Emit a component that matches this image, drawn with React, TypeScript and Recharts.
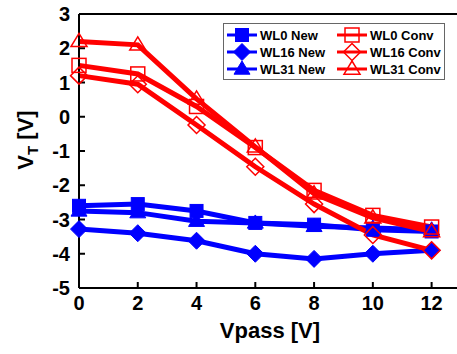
import { Line, LineChart, ReferenceLine, XAxis, YAxis } from 'recharts';

const vpass = [0, 2, 4, 6, 8, 10, 12];
const wl0New = [-2.6, -2.55, -2.75, -3.1, -3.15, -3.3, -3.35];
const wl16New = [-3.28, -3.4, -3.62, -4.0, -4.15, -4.0, -3.9];
const wl31New = [-2.75, -2.8, -3.05, -3.1, -3.2, -3.25, -3.3];
const wl0Conv = [1.5, 1.25, 0.3, -0.9, -2.15, -2.88, -3.22];
const wl16Conv = [1.2, 0.95, -0.24, -1.46, -2.55, -3.45, -3.9];
const wl31Conv = [2.2, 2.1, 0.52, -0.88, -2.25, -2.95, -3.35];
const xTicks = [0, 2, 4, 6, 8, 10, 12];
const yTicks = [-5, -4, -3, -2, -1, 0, 1, 2, 3];

type Shape = 'square' | 'diamond' | 'triangle';

const series: { key: string; name: string; values: number[]; color: string; shape: Shape; filled: boolean }[] = [
  { key: 'wl0New', name: 'WL0 New', values: wl0New, color: '#0000ff', shape: 'square', filled: true },
  { key: 'wl16New', name: 'WL16 New', values: wl16New, color: '#0000ff', shape: 'diamond', filled: true },
  { key: 'wl31New', name: 'WL31 New', values: wl31New, color: '#0000ff', shape: 'triangle', filled: true },
  { key: 'wl0Conv', name: 'WL0 Conv', values: wl0Conv, color: '#ff0000', shape: 'square', filled: false },
  { key: 'wl16Conv', name: 'WL16 Conv', values: wl16Conv, color: '#ff0000', shape: 'diamond', filled: false },
  { key: 'wl31Conv', name: 'WL31 Conv', values: wl31Conv, color: '#ff0000', shape: 'triangle', filled: false },
];

const data = vpass.map((x, i) => {
  const row: Record<string, number> = { x };
  series.forEach((s) => (row[s.key] = s.values[i]));
  return row;
});

const font = '"Liberation Sans", Arial, sans-serif';

function Marker({ cx, cy, shape, filled, color }: { cx: number; cy: number; shape: Shape; filled: boolean; color: string }) {
  const fill = filled ? color : 'none';
  const sw = filled ? 1 : 1.5;
  if (shape === 'square') {
    const s = filled ? 13 : 14;
    return <rect x={cx - s / 2} y={cy - s / 2} width={s} height={s} fill={fill} stroke={color} strokeWidth={sw} />;
  }
  if (shape === 'diamond') {
    const r = 8.5;
    return (
      <polygon
        points={`${cx},${cy - r} ${cx + r},${cy} ${cx},${cy + r} ${cx - r},${cy}`}
        fill={fill}
        stroke={color}
        strokeWidth={sw}
      />
    );
  }
  const r = 8;
  return (
    <polygon
      points={`${cx},${cy - r} ${cx + r},${cy + r * 0.65} ${cx - r},${cy + r * 0.65}`}
      fill={fill}
      stroke={color}
      strokeWidth={sw}
    />
  );
}

// legend drawn as an overlay so it doesn't eat into the plot area
function LegendBox() {
  return (
    <svg width={222} height={57} style={{ position: 'absolute', left: 223, top: 23 }}>
      <rect x={0.5} y={0.5} width={221} height={56} fill="#fff" stroke="#666" strokeWidth={1} />
      {series.map((s, i) => {
        const col = i < 3 ? 0 : 1;
        const row = i % 3;
        const x0 = col === 0 ? 4 : 114;
        const cy = 12 + row * 17;
        return (
          <g key={s.key}>
            <line x1={x0} x2={x0 + 30} y1={cy} y2={cy} stroke={s.color} strokeWidth={3} />
            <Marker cx={x0 + 15} cy={cy} shape={s.shape} filled={s.filled} color={s.color} />
            <text x={x0 + 33} y={cy + 5} fontFamily={font} fontWeight="bold" fontSize={13} fill="#000">
              {s.name}
            </text>
          </g>
        );
      })}
    </svg>
  );
}

export default function App() {
  return (
    <div style={{ position: 'absolute', left: 0, top: 0, width: 457, height: 354, overflow: 'hidden', background: '#fff' }}>
      <LineChart width={461} height={354} data={data} margin={{ top: 14, right: 0, left: 0, bottom: 0 }}>
        <XAxis
          dataKey="x"
          type="number"
          domain={[0, 13]}
          ticks={xTicks}
          height={66}
          stroke="#000"
          strokeWidth={2}
          tickSize={-6}
          tickMargin={14}
          tick={{ fill: '#000', fontSize: 20, fontWeight: 'bold', fontFamily: font }}
          label={{
            content: ({ viewBox }: any) => (
              <text
                x={viewBox.x + viewBox.width / 2}
                y={338}
                textAnchor="middle"
                fontFamily={font}
                fontWeight="bold"
                fontSize={22}
                fill="#000"
              >
                Vpass [V]
              </text>
            ),
          }}
        />
        <YAxis
          type="number"
          domain={[-5, 3]}
          ticks={yTicks}
          width={79}
          stroke="#000"
          strokeWidth={2}
          tickSize={-6}
          tickMargin={15}
          interval={0}
          tick={{ fill: '#000', fontSize: 20, fontWeight: 'bold', fontFamily: font }}
          label={{
            content: () => (
              <text
                x={0}
                y={0}
                transform="translate(33,140) rotate(-90)"
                textAnchor="middle"
                fontFamily={font}
                fontWeight="bold"
                fontSize={22}
                fill="#000"
              >
                V<tspan fontSize={15} dy={5}>T</tspan>
                <tspan dy={-5}> [V]</tspan>
              </text>
            ),
          }}
        />
        <ReferenceLine y={3} stroke="#000" strokeWidth={2} />
        {series.map((s) => (
          <Line
            key={s.key}
            dataKey={s.key}
            name={s.name}
            stroke={s.color}
            strokeWidth={5}
            isAnimationActive={false}
            dot={(p: any) => <Marker key={p.index} cx={p.cx} cy={p.cy} shape={s.shape} filled={s.filled} color={s.color} />}
            activeDot={false}
          />
        ))}
      </LineChart>
      <LegendBox />
    </div>
  );
}
